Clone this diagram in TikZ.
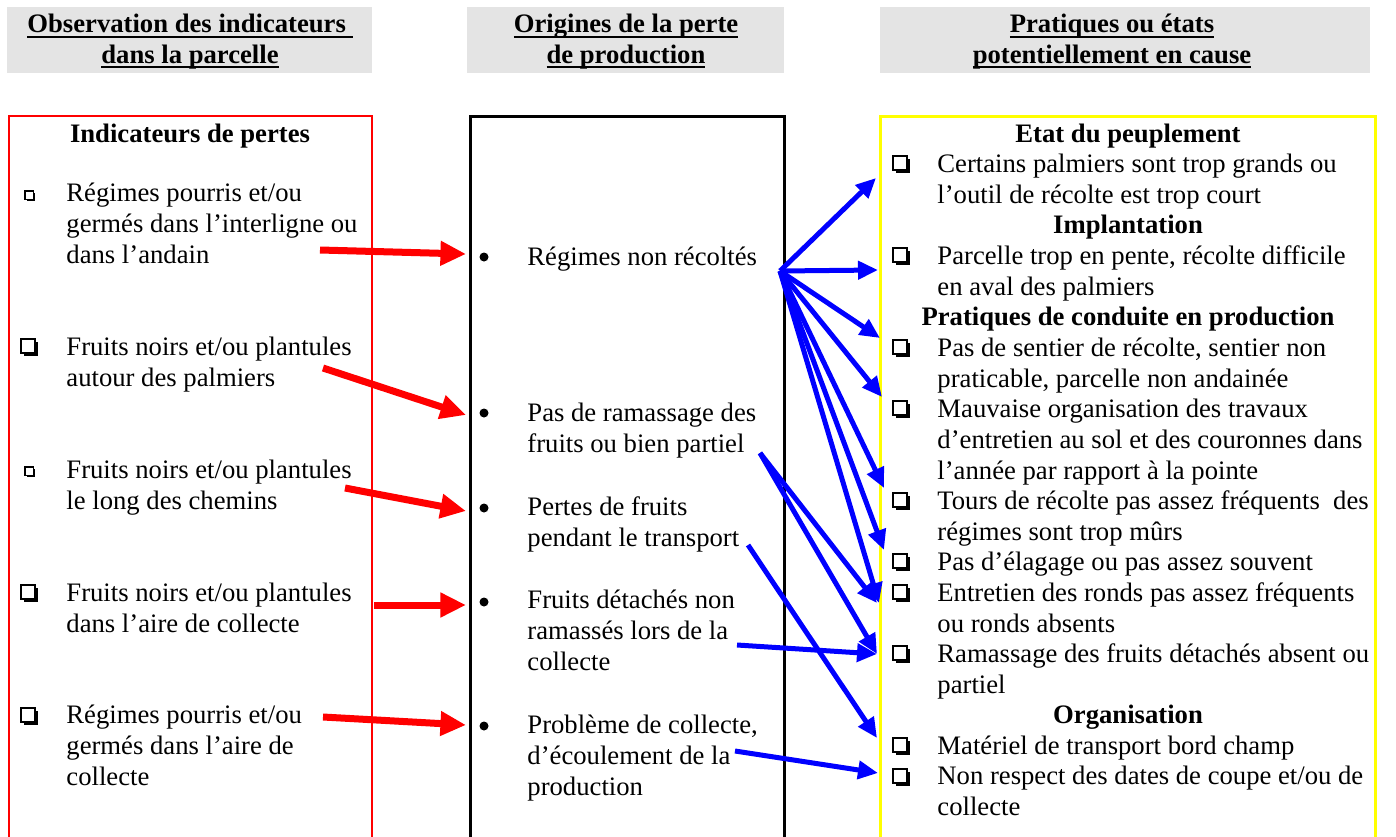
\documentclass[tikz,border=0pt]{standalone}
\usepackage{fontspec}
\setmainfont{Liberation Serif}
\usetikzlibrary{arrows.meta,positioning}
\definecolor{hdrGray}{HTML}{E4E4E4}
\definecolor{lossRed}{HTML}{FF0000}
\definecolor{causeBlue}{HTML}{0000FF}
\definecolor{frameYellow}{HTML}{FFFF00}
\newcommand\bodysize{\fontsize{12pt}{13.77pt}\selectfont}
\newcommand\hul[1]{\setbox0\hbox{#1}\rlap{\rule[-2.4pt]{\wd0}{0.9pt}}\box0}

\begin{document}
\begin{tikzpicture}[x=0.45pt,y=-0.45pt,font=\bodysize,
  txt/.style={anchor=base west,inner sep=0pt,align=left},
  ttl/.style={anchor=base,inner sep=0pt,font=\bodysize\bfseries},
  hdr/.style={anchor=base,inner sep=0pt,align=center,font=\bodysize\bfseries},
  redarr/.style={lossRed,line width=3.15pt,-{Triangle[length=11.5pt,width=10.5pt]}},
  bluarr/.style={causeBlue,line width=2.25pt,-{Triangle[length=9pt,width=8pt]}},
  cbox/.pic={
    \fill (-5,-5) rectangle (9,9);
    \filldraw[fill=white,line width=0.8pt] (-8,-8) rectangle (6,6);
  }]
  \useasboundingbox (0,0) rectangle (1396,837);

  % headers (nodes sit on the baseline of their last line)
  \fill[hdrGray] (7,7) rectangle (372,73);
  \fill[hdrGray] (467,7) rectangle (784,73);
  \fill[hdrGray] (880,7) rectangle (1370,73);
  \node[hdr] (hObs) at (190,63) {\hul{Observation des indicateurs\ }\\\hul{dans la parcelle}};
  \node[hdr] (hOri) at (626,63) {\hul{Origines de la perte}\\\hul{de production}};
  \node[hdr] (hPra) at (1112,63) {\hul{Pratiques ou états}\\\hul{potentiellement en cause}};

  % column frames, open at the bottom
  \draw[lossRed,line width=0.9pt] (9,850) -- (9,116) -- (372,116) -- (372,850);
  \draw[black,line width=1.35pt] (470,850) -- (470,116) -- (784,116) -- (784,850);
  \draw[frameYellow,line width=1.35pt] (880,850) -- (880,116) -- (1375,116) -- (1375,850);

  % indicators
  \node[ttl] (indT) at (190,142) {Indicateurs de pertes};
  \node[txt] (ind1) at (66,263) {Régimes pourris et/ou\\germés dans l’interligne ou\\dans l’andain};
  \node[txt] (ind2) at (66,386) {Fruits noirs et/ou plantules\\autour des palmiers};
  \node[txt] (ind3) at (66,509) {Fruits noirs et/ou plantules\\le long des chemins};
  \node[txt] (ind4) at (66,632) {Fruits noirs et/ou plantules\\dans l’aire de collecte};
  \node[txt] (ind5) at (66,785) {Régimes pourris et/ou\\germés dans l’aire de\\collecte};
  \pic[scale=0.6] at (30,196) {cbox};
  \pic at (29,347) {cbox};
  \pic[scale=0.6] at (30,472) {cbox};
  \pic at (29,593) {cbox};
  \pic at (29,716) {cbox};

  % origins
  \node[txt] (orgA) at (527,265) {Régimes non récoltés};
  \node[txt] (orgB) at (527,452) {Pas de ramassage des\\fruits ou bien partiel};
  \node[txt] (orgC) at (527,546) {Pertes de fruits\\pendant le transport};
  \node[txt] (orgD) at (527,670) {Fruits détachés non\\ramassés lors de la\\collecte};
  \node[txt] (orgE) at (527,795) {Problème de collecte,\\d’écoulement de la\\production};
  \foreach \y in {257,413,508,602,726}
    \fill (484,\y) circle (4.5);

  % causes
  \node[ttl] (hEtat) at (1128,142) {Etat du peuplement};
  \node[txt] (c1) at (937,203) {Certains palmiers sont trop grands ou\\l’outil de récolte est trop court};
  \node[ttl] (hImpl) at (1128,233) {Implantation};
  \node[txt] (c2) at (937,295) {Parcelle trop en pente, récolte difficile\\en aval des palmiers};
  \node[ttl] (hPrat) at (1128,325) {Pratiques de conduite en production};
  \node[txt] (c3) at (937,387) {Pas de sentier de récolte, sentier non\\praticable, parcelle non andainée};
  \node[txt] (c4) at (937,479) {Mauvaise organisation des travaux\\d’entretien au sol et des couronnes dans\\l’année par rapport à la pointe};
  \node[txt] (c5) at (937,540) {Tours de récolte pas assez fréquents\ \ des\\régimes sont trop mûrs};
  \node[txt] (c6) at (937,570) {Pas d’élagage ou pas assez souvent};
  \node[txt] (c7) at (937,632) {Entretien des ronds pas assez fréquents\\ou ronds absents};
  \node[txt] (c8) at (937,693) {Ramassage des fruits détachés absent ou\\partiel};
  \node[ttl] (hOrg) at (1128,723) {Organisation};
  \node[txt] (c9) at (937,754) {Matériel de transport bord champ};
  \node[txt] (c10) at (937,815) {Non respect des dates de coupe et/ou de\\collecte};
  \foreach \y in {164,256,348,409,501,562,593,654,746,777}
    \pic at (901,\y) {cbox};

  % indicators -> origins
  \coordinate (rs1) at (320,250); \coordinate (re1) at (466,254);
  \coordinate (rs2) at (323,368); \coordinate (re2) at (466,415);
  \coordinate (rs3) at (345,488); \coordinate (re3) at (466,511);
  \coordinate (rs4) at (374,605); \coordinate (re4) at (466,605);
  \coordinate (rs5) at (323,717); \coordinate (re5) at (466,725);
  \foreach \n in {1,...,5}
    \draw[redarr] (rs\n) -- (re\n);

  % origins -> causes
  \coordinate (fanA) at (780,271);
  \coordinate (srcB) at (760,453);
  \coordinate (srcC) at (748,545);
  \coordinate (srcD) at (737,645);
  \coordinate (srcE) at (735,751);
  \foreach \n/\tx/\ty in {1/876/178,2/878/270,3/880/338,4/882/397,5/884/488,6/884/550,7/879/603}
    \coordinate (fan\n) at (\tx,\ty);
  \coordinate (tgtRond) at (877,603);
  \coordinate (tgtRam) at (877,654);
  \coordinate (tgtMat) at (877,738);
  \coordinate (tgtDate) at (878,773);
  \foreach \n in {1,...,7}
    \draw[bluarr] (fanA) -- (fan\n);
  \draw[bluarr] (srcB) -- (tgtRond);
  \draw[bluarr] (srcB) -- (tgtRam);
  \draw[bluarr] (srcC) -- (tgtMat);
  \draw[bluarr] (srcD) -- (tgtRam);
  \draw[bluarr] (srcE) -- (tgtDate);
\end{tikzpicture}
\end{document}
